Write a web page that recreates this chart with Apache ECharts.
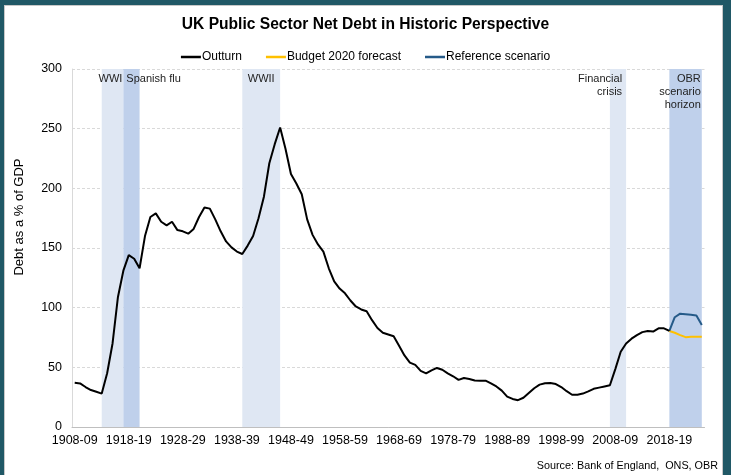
<!DOCTYPE html>
<html>
<head>
<meta charset="utf-8">
<script src="https://cdn.jsdelivr.net/npm/echarts@6/dist/echarts.min.js"></script>
<style>
  html, body { margin: 0; padding: 0; background: #205866; }
  #panel { position: absolute; left: 5px; top: 6px; width: 717px; height: 475px; background: #ffffff; box-shadow: 0 0 0 1px #c8c8c8; }
  #chart { position: absolute; left: 0; top: 0; width: 731px; height: 475px; }
</style>
</head>
<body>
<div id="panel"></div>
<div id="chart"></div>
<script>
// ---- data ----
var firstYear = 1908, lastYear = 2024;
var categories = [];
for (var y = firstYear; y <= lastYear; y++) {
  categories.push(y + '-' + String((y + 1) % 100).padStart(2, '0'));
}
var outturn = [
  37, 36.5, 33.5, 31, 29.5, 28, 45, 70, 109, 131,
  144, 141, 133, 160, 176, 179, 172, 169, 172, 165,
  164, 162, 166, 176, 184, 183, 174, 164, 155.5, 150.5,
  147, 145, 152, 160, 175, 193, 221, 237, 251, 233,
  212, 204, 195, 174, 161, 153, 147, 133, 122, 116,
  112, 106, 101, 98.5, 97, 89.5, 83, 79, 77.5, 76,
  68, 60, 54, 52, 47, 45, 47.5, 49.5, 48, 45,
  42.5, 39.5, 41, 40.2, 39, 38.8, 38.8, 36.5, 34, 30.5,
  25.5, 23.5, 22.5, 24.5, 28.5, 32.5, 35.5, 36.6, 36.8, 36,
  33.5, 30, 27, 27, 28, 29.8, 32, 33, 34, 35,
  48.5, 63, 70, 74, 77, 79.5, 80.5, 80, 82.7, 82.7,
  80.5
];
var forecastStart = '2018-19';
var budget2020 = [80.5, 79, 77, 75.3, 75.7, 75.6, 75.7];
var reference = [80.5, 92, 95, 94.5, 94, 93.5, 85.5];
var yTicks = { min: 0, max: 300, interval: 50 };
var bandsLight = [
  { name: 'WWI', from: '1913-14', to: '1917-18', pos: 'insideTopRight', shift: 2 },
  { name: 'WWII', from: '1939-40', to: '1946-47', pos: 'insideTop', shift: 0 },
  { name: 'Financial\ncrisis', from: '2007-08', to: '2010-11', pos: 'insideTopRight', shift: -1 }
];
var bandsDark = [
  { name: 'Spanish flu', from: '1917-18', to: '1920-21', pos: 'insideTopLeft', shift: 0 },
  { name: 'OBR\nscenario\nhorizon', from: '2018-19', to: '2024-25', pos: 'insideTopRight', shift: 2 }
];
var sourceText = 'Source: Bank of England,  ONS, OBR';

// ---- build ----
function pad(arr, startCat) {
  var out = categories.map(function () { return null; });
  var s = categories.indexOf(startCat);
  arr.forEach(function (v, i) { out[s + i] = v; });
  return out;
}
var outturnData = categories.map(function (c, i) { return i < outturn.length ? outturn[i] : null; });
var FONT = '"Liberation Sans", Arial, sans-serif';

function bandData(list, color) {
  return list.map(function (b) {
    var al = b.pos === 'insideTopRight' ? 'right' : (b.pos === 'insideTopLeft' ? 'left' : 'center');
    return [
      { xAxis: b.from, yAxis: yTicks.max, name: b.name, itemStyle: { color: color },
        label: { position: b.pos, align: al, offset: [b.shift, 0] } },
      { xAxis: b.to, yAxis: yTicks.min }
    ];
  });
}

var chart = echarts.init(document.getElementById('chart'));
chart.setOption({
  backgroundColor: 'transparent',
  animation: false,
  textStyle: { fontFamily: FONT },
  title: {
    text: 'UK Public Sector Net Debt in Historic Perspective',
    left: 'center', top: 12,
    textStyle: { fontFamily: FONT, fontSize: 15.6, fontWeight: 'bold', color: '#000' }
  },
  legend: {
    top: 46, left: 'center',
    data: ['Outturn', 'Budget 2020 forecast', 'Reference scenario'],
    icon: 'rect', itemWidth: 20, itemHeight: 2.5, itemGap: 24,
    textStyle: { fontFamily: FONT, fontSize: 12, color: '#000', padding: [0, 0, 0, -4] }
  },
  grid: { left: 72, right: 26.5, top: 69, bottom: 48, containLabel: false },
  xAxis: {
    type: 'category', data: categories, boundaryGap: true,
    axisLine: { lineStyle: { color: '#bfbfbf', width: 1 } },
    axisTick: { interval: 9, length: 5, lineStyle: { color: '#bfbfbf' } },
    axisLabel: { interval: 9, margin: 7, fontSize: 12.5, color: '#000', fontFamily: FONT },
    splitLine: { show: false }
  },
  yAxis: {
    type: 'value', min: yTicks.min, max: yTicks.max, interval: yTicks.interval,
    name: 'Debt as a % of GDP', nameLocation: 'middle', nameGap: 46, nameRotate: 90,
    nameTextStyle: { fontSize: 13, color: '#000', fontFamily: FONT, padding: [0, 0, 0, 62] },
    axisLine: { show: true, lineStyle: { color: '#d9d9d9' } },
    axisTick: { show: false },
    axisLabel: { margin: 10, fontSize: 12.5, color: '#000', fontFamily: FONT },
    splitLine: { lineStyle: { color: '#d9d9d9', type: [3, 2] } }
  },
  series: [
    {
      name: 'bands', type: 'line', data: categories.map(function () { return null; }),
      silent: true, z: 1, showSymbol: false,
      markArea: {
        silent: true,
        label: { show: true, color: '#222', fontSize: 11, fontFamily: FONT, lineHeight: 13, distance: 3 },
        data: bandData(bandsLight, '#dfe7f3').concat(bandData(bandsDark, '#bfd0eb'))
      }
    },
    {
      name: 'Budget 2020 forecast', type: 'line', data: pad(budget2020, forecastStart),
      showSymbol: false, symbol: 'none', z: 3,
      lineStyle: { color: '#ffc000', width: 2 }, itemStyle: { color: '#ffc000' }
    },
    {
      name: 'Reference scenario', type: 'line', data: pad(reference, forecastStart),
      showSymbol: false, symbol: 'none', z: 4,
      lineStyle: { color: '#255a88', width: 2 }, itemStyle: { color: '#255a88' }
    },
    {
      name: 'Outturn', type: 'line', data: outturnData,
      showSymbol: false, symbol: 'none', z: 5,
      lineStyle: { color: '#000', width: 2 }, itemStyle: { color: '#000' }
    }
  ],
  graphic: [
    { type: 'text', right: 13, top: 461,
      style: { text: sourceText, fontSize: 10.8, fontFamily: FONT, fill: '#000', textAlign: 'right' } }
  ]
});
</script>
</body>
</html>
